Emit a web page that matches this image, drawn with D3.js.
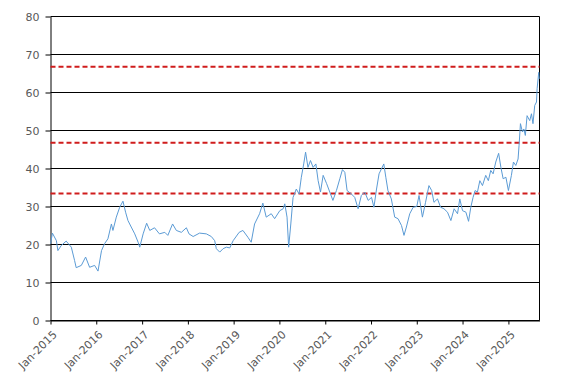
<!DOCTYPE html>
<html>
<head>
<meta charset="utf-8">
<script src="https://cdn.jsdelivr.net/npm/d3@7"></script>
<style>
body{margin:0;background:#fff}
svg{display:block}
</style>
</head>
<body>
<div id="chart"></div>
<script>
// series
var dates = ["2015-01-02","2015-01-16","2015-02-17","2015-03-01","2015-03-27","2015-05-06","2015-06-16","2015-07-12","2015-07-25","2015-09-04","2015-10-08","2015-11-09","2015-12-19",
	"2016-01-15","2016-02-12","2016-03-07","2016-04-03","2016-05-01","2016-05-13","2016-06-09","2016-07-06","2016-08-01","2016-08-22","2016-09-10","2016-10-06","2016-11-03","2016-11-30","2016-12-13",
	"2017-01-09","2017-02-06","2017-03-03","2017-04-10","2017-05-19","2017-07-01","2017-07-25","2017-09-01","2017-10-01","2017-11-10","2017-12-20",
	"2018-01-10","2018-02-12","2018-04-04","2018-05-28","2018-07-07","2018-08-03","2018-08-16","2018-09-12","2018-10-09","2018-11-04","2018-12-01","2018-12-28",
	"2019-02-14","2019-03-16","2019-04-25","2019-05-21","2019-06-17","2019-07-27","2019-08-22","2019-09-18","2019-10-28","2019-11-24",
	"2020-01-04","2020-01-31","2020-02-13","2020-03-02","2020-03-15","2020-04-01","2020-04-19","2020-05-15","2020-06-06","2020-06-24","2020-07-13","2020-07-28","2020-08-16","2020-09-05","2020-09-26","2020-10-18","2020-11-05","2020-11-24","2020-12-15",
	"2021-01-12","2021-02-06","2021-03-03","2021-03-31","2021-04-27","2021-05-18","2021-06-06","2021-06-24","2021-07-28","2021-08-24","2021-09-20","2021-10-16","2021-11-12","2021-12-09",
	"2022-01-05","2022-01-24","2022-02-14","2022-03-06","2022-03-25","2022-04-13","2022-04-29","2022-05-16","2022-06-12","2022-07-09","2022-08-04","2022-09-01","2022-09-21","2022-10-10","2022-11-06","2022-12-03",
	"2023-01-01","2023-01-19","2023-02-15","2023-03-12","2023-04-08","2023-04-30","2023-05-18","2023-06-15","2023-07-10","2023-08-06","2023-09-03","2023-09-30","2023-10-26","2023-11-22","2023-12-10",
	"2024-01-01","2024-01-28","2024-02-18","2024-03-07","2024-03-25","2024-04-10","2024-04-29","2024-05-18","2024-06-08","2024-07-04","2024-07-25","2024-08-13","2024-09-01","2024-09-22","2024-10-15","2024-11-02","2024-11-20","2024-12-12",
	"2025-01-01","2025-01-25","2025-02-10","2025-03-01","2025-03-19","2025-03-27","2025-04-07","2025-04-23","2025-05-04","2025-05-16","2025-05-30","2025-06-20","2025-07-04","2025-07-16","2025-07-30","2025-08-13","2025-08-18","2025-08-31","2025-09-04"];
var values = [20.2,23.0,21.0,18.4,19.7,20.9,19.3,15.8,13.9,14.5,16.7,14.0,14.5,
	13.0,18.4,20.2,21.5,25.4,23.7,27.2,29.8,31.4,28.5,26.3,24.6,22.8,20.6,19.3,
	22.8,25.6,23.7,24.4,22.8,23.2,22.4,25.4,23.7,23.2,24.4,
	22.8,22.1,23.0,22.8,22.1,21.0,18.9,18.0,18.9,19.3,19.1,21.0,
	23.2,23.7,21.9,20.6,25.4,28.1,30.9,27.2,28.1,26.8,
	28.9,29.4,30.7,27.2,19.3,25.4,32.4,34.6,33.3,37.7,41.2,44.3,40.3,42.1,40.3,41.2,36.8,33.8,38.2,
	36.0,33.8,31.6,34.2,37.3,39.7,39.0,34.2,33.3,32.4,29.4,32.9,33.8,31.6,
	32.4,29.8,34.6,38.6,39.9,41.2,37.7,34.2,32.0,27.2,26.8,25.0,22.4,24.6,28.1,29.8,
	30.0,32.9,27.2,31.1,35.5,34.2,31.1,32.0,29.8,29.4,28.5,26.3,29.4,28.1,32.0,
	28.9,28.5,26.1,29.8,32.4,34.2,33.8,36.8,35.5,38.2,36.8,39.5,38.6,41.7,44.0,40.3,37.3,37.7,
	34.2,38.2,41.7,40.8,42.5,46.1,51.8,49.6,50.4,48.7,53.9,52.6,54.4,51.8,56.6,57.5,61.0,65.3,63.6];
var refLines = [66.8, 46.8, 33.4];
var yTicks = [0,10,20,30,40,50,60,70,80];
var xTickYears = [2015,2016,2017,2018,2019,2020,2021,2022,2023,2024,2025];

var W = 567, H = 383;
var pLeft = 50.5, pRight = 539.5, pTop = 16.5, pBottom = 320.5;
var font = "'DejaVu Sans', Verdana, sans-serif";
var parse = d3.timeParse("%Y-%m-%d");
var fmt = d3.timeFormat("%b-%Y");

var data = dates.map(function(d,i){ return {date:parse(d), val:values[i]}; });

var x = d3.scaleTime().domain([new Date(2015,0,1), new Date(2025,8,6)]).range([pLeft,pRight]);
var y = d3.scaleLinear().domain([0,80]).range([pBottom,pTop]);

var svg = d3.select("#chart").append("svg").attr("width",W).attr("height",H);
svg.append("rect").attr("width",W).attr("height",H).attr("fill","#fff");

// gridlines
svg.append("g").selectAll("line").data(yTicks).enter().append("line")
	.attr("x1",pLeft).attr("x2",pRight)
	.attr("y1",function(d){return y(d)}).attr("y2",function(d){return y(d)})
	.attr("stroke","#000").attr("stroke-width",1);

// right frame line
svg.append("line").attr("x1",pRight).attr("x2",pRight).attr("y1",pTop).attr("y2",pBottom)
	.attr("stroke","#000").attr("stroke-width",1);

// y axis
var yAxis = svg.append("g").attr("transform","translate("+pLeft+",0)")
	.call(d3.axisLeft(y).tickValues(yTicks).tickSize(5).tickPadding(6).tickSizeOuter(0));
yAxis.attr("font-family",font).attr("font-size",null);
yAxis.select(".domain").attr("stroke","#000");
yAxis.selectAll(".tick line").attr("stroke","#000");
yAxis.selectAll("text").attr("fill","#595959").style("font-size","11px").style("font-family",font);

// x axis
var xAxis = svg.append("g").attr("transform","translate(0,"+pBottom+")")
	.call(d3.axisBottom(x).tickValues(xTickYears.map(function(yr){return new Date(yr,0,1)}))
		.tickFormat(fmt).tickSize(4).tickSizeOuter(0));
xAxis.attr("font-family",font).attr("font-size",null);
xAxis.select(".domain").attr("stroke","#000");
xAxis.selectAll(".tick line").attr("stroke","#000");
xAxis.selectAll("text")
	.attr("fill","#595959").style("font-size","11px").style("font-family",font)
	.attr("text-anchor","end")
	.attr("x",4).attr("y",12).attr("dy","0.35em")
	.attr("transform","rotate(-45 4 12)");

// reference lines
svg.append("g").selectAll("line").data(refLines).enter().append("line")
	.attr("x1",pLeft).attr("x2",pRight)
	.attr("y1",function(d){return y(d)}).attr("y2",function(d){return y(d)})
	.attr("stroke","#d01c1c").attr("stroke-width",2).attr("stroke-dasharray","5,3");

// series
var line = d3.line().x(function(d){return x(d.date)}).y(function(d){return y(d.val)});
svg.append("path").datum(data).attr("d",line)
	.attr("fill","none").attr("stroke","#5b9bd5").attr("stroke-width",1);
</script>
</body>
</html>
